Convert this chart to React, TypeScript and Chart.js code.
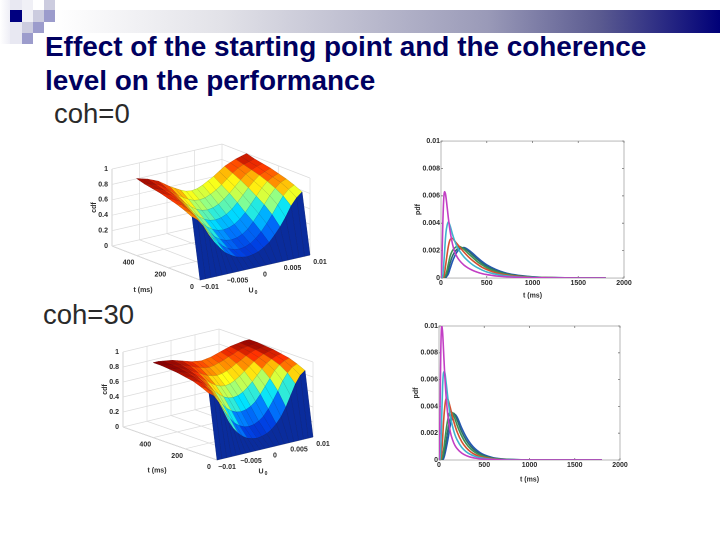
import { useEffect, useRef } from 'react';
import { Chart, registerables } from 'chart.js';

Chart.register(...registerables);

// surface grids
const u0Grid = [-0.01, -0.009, -0.008, -0.007, -0.006, -0.005, -0.004, -0.003, -0.002, -0.001, 0, 0.001, 0.002, 0.003, 0.004, 0.005, 0.006, 0.007, 0.008, 0.009, 0.01];
const tGrid = [0, 50, 100, 150, 200, 250, 300, 350, 400];

const cdfCoh0 = [
  [0, 0, 0, 0, 0, 0, 0, 0, 0, 0, 0, 0, 0, 0, 0, 0, 0, 0, 0, 0, 0],
  [.78, .72, .63, .50, .39, .30, .22, .17, .13, .11, .10, .11, .13, .17, .22, .30, .39, .50, .63, .72, .78],
  [.83, .79, .72, .62, .51, .41, .32, .25, .20, .17, .16, .17, .20, .25, .32, .41, .51, .62, .72, .79, .83],
  [.87, .84, .78, .70, .60, .50, .41, .33, .28, .25, .24, .25, .28, .33, .41, .50, .60, .70, .78, .84, .87],
  [.90, .87, .83, .76, .67, .58, .49, .42, .37, .34, .33, .34, .37, .42, .49, .58, .67, .76, .83, .87, .90],
  [.93, .90, .87, .81, .74, .66, .58, .51, .46, .43, .42, .43, .46, .51, .58, .66, .74, .81, .87, .90, .93],
  [.95, .93, .90, .86, .80, .73, .66, .60, .55, .52, .51, .52, .55, .60, .66, .73, .80, .86, .90, .93, .95],
  [.97, .95, .93, .90, .85, .79, .73, .68, .64, .61, .60, .61, .64, .68, .73, .79, .85, .90, .93, .95, .97],
  [1, .98, .96, .93, .90, .85, .80, .76, .72, .69, .68, .69, .72, .76, .80, .85, .90, .93, .96, .98, 1],
];

const cdfCoh30 = [
  [0, 0, 0, 0, 0, 0, 0, 0, 0, 0, 0, 0, 0, 0, 0, 0, 0, 0, 0, 0, 0],
  [.85, .80, .70, .56, .42, .31, .23, .17, .13, .11, .10, .11, .13, .17, .23, .31, .42, .56, .70, .80, .85],
  [.90, .87, .81, .72, .60, .49, .39, .31, .26, .23, .22, .23, .26, .31, .39, .49, .60, .72, .81, .87, .90],
  [.94, .92, .88, .82, .73, .64, .55, .47, .42, .39, .38, .39, .42, .47, .55, .64, .73, .82, .88, .92, .94],
  [.96, .95, .92, .88, .82, .75, .68, .62, .57, .54, .53, .54, .57, .62, .68, .75, .82, .88, .92, .95, .96],
  [.98, .97, .95, .92, .88, .83, .78, .73, .69, .66, .65, .66, .69, .73, .78, .83, .88, .92, .95, .97, .98],
  [.99, .98, .97, .95, .92, .88, .85, .81, .78, .76, .75, .76, .78, .81, .85, .88, .92, .95, .97, .98, .99],
  [1, .99, .98, .97, .95, .92, .90, .87, .85, .83, .82, .83, .85, .87, .90, .92, .95, .97, .98, .99, 1],
  [1, 1, .99, .98, .97, .95, .93, .91, .89, .88, .87, .88, .89, .91, .93, .95, .97, .98, .99, 1, 1],
];

const zTicks = [0, 0.2, 0.4, 0.6, 0.8, 1];
const tTicks = [0, 200, 400];
const uTicks = [-0.01, -0.005, 0, 0.005, 0.01];

// pdf curves
const tPdf = [0, 10, 20, 30, 40, 50, 60, 80, 100, 125, 150, 175, 200, 250, 300, 350, 400, 450, 500, 600, 700, 800, 1000, 1200, 1500, 1800];
const pdfNames = ['magenta', 'cyan', 'red', 'green', 'teal', 'blue'];
const pdfColors = ['#c23fc4', '#3fb4cc', '#d4512f', '#3c9252', '#2a6a72', '#2456b4'];

const pdfCoh0 = [
  [0, .0012, .0040, .0058, .0063, .0061, .0056, .0044, .0034, .0025, .0019, .00155, .0013, .00095, .00072, .00055, .00042, .00032, .00025, .00015, .0001, .00006, .00002, .00001, 0, 0],
  [0, 0, .0002, .001, .0020, .0030, .0036, .0041, .0038, .0032, .0027, .0023, .0020, .00155, .00122, .00095, .00075, .00058, .00045, .00028, .00017, .0001, .00004, .00001, 0, 0],
  [0, 0, 0, .0001, .0004, .0009, .0014, .0023, .0028, .0029, .0027, .0025, .0023, .0019, .00155, .00125, .001, .00078, .00062, .00038, .00023, .00014, .00005, .00002, 0, 0],
  [0, 0, 0, 0, .0001, .0002, .0004, .001, .0016, .0020, .0022, .0023, .0023, .0021, .00178, .00148, .00118, .00095, .00075, .00047, .00029, .00018, .00006, .00002, 0, 0],
  [0, 0, 0, 0, 0, .0001, .0002, .0006, .0011, .0016, .0019, .0021, .0022, .00218, .00195, .00165, .00135, .00108, .00086, .00055, .00034, .00021, .00008, .00003, 0, 0],
  [0, 0, 0, 0, 0, 0, .0001, .0003, .0007, .0012, .0016, .0019, .0021, .00222, .00205, .00178, .00148, .0012, .00096, .00062, .00038, .00024, .00009, .00003, 0, 0],
];

const pdfCoh30 = [
  [0, .0030, .0082, .0100, .0095, .0082, .0068, .0046, .0032, .0021, .0015, .0011, .00085, .00052, .00033, .00021, .00014, .00009, .00006, .00003, .00001, 0, 0, 0, 0, 0],
  [0, 0, .0010, .0032, .0055, .0065, .0066, .0057, .0045, .0033, .0025, .0019, .0015, .00095, .00062, .00041, .00027, .00018, .00012, .00005, .00002, .00001, 0, 0, 0, 0],
  [0, 0, .0001, .0006, .0016, .0028, .0037, .0046, .0045, .0039, .0032, .0026, .0021, .00138, .00092, .00061, .0004, .00027, .00018, .00008, .00003, .00001, 0, 0, 0, 0],
  [0, 0, 0, .0001, .0003, .0007, .0012, .0023, .0031, .0036, .0035, .0031, .0026, .0018, .00122, .00083, .00056, .00038, .00025, .00011, .00005, .00002, 0, 0, 0, 0],
  [0, 0, 0, 0, .0001, .0003, .0006, .0014, .0023, .0031, .0035, .0034, .0030, .00212, .00148, .00102, .0007, .00047, .00032, .00014, .00006, .00003, 0, 0, 0, 0],
  [0, 0, 0, 0, 0, .0001, .0003, .0009, .0016, .0026, .0032, .0034, .0032, .0024, .00172, .0012, .00083, .00057, .00038, .00017, .00008, .00003, 0, 0, 0, 0],
];

const FONT = '"Liberation Sans", Arial, sans-serif';
const LABEL = '#2b2b2b';

const jetStops: [number, number[]][] = [
  [0, [10, 44, 156]],
  [0.12, [0, 60, 225]],
  [0.25, [0, 120, 255]],
  [0.38, [0, 225, 255]],
  [0.5, [140, 255, 140]],
  [0.65, [255, 255, 20]],
  [0.76, [255, 160, 0]],
  [0.88, [255, 50, 0]],
  [1, [140, 0, 0]],
];

function jet(z: number) {
  for (let i = 1; i < jetStops.length; i++) {
    if (z <= jetStops[i][0]) {
      const [z0, a] = jetStops[i - 1];
      const [z1, b] = jetStops[i];
      const k = (z - z0) / (z1 - z0);
      return `rgb(${a.map((v, n) => Math.round(v + (b[n] - v) * k)).join(',')})`;
    }
  }
  return 'rgb(140,0,0)';
}

type View = { ox: number; oy: number; ux: number; uy: number; tx: number; ty: number; zLen: number; tMax: number };

const project = (v: View, u: number, t: number, z: number) => {
  const a = (u + 0.01) / 0.02;
  const b = t / v.tMax;
  return { x: v.ox + a * v.ux + b * v.tx, y: v.oy + a * v.uy + b * v.ty - z * v.zLen };
};

function buildSurface(v: View, cdf: number[][]) {
  const datasets: any[] = [];
  // first dataset ends up on top, so nearest cells go first
  for (let r = 0; r < tGrid.length - 1; r++) {
    for (let c = 0; c < u0Grid.length - 1; c++) {
      const colorCol = c - (c % 2);
      datasets.push({
        data: [
          project(v, u0Grid[c], tGrid[r], cdf[r][c]),
          project(v, u0Grid[c + 1], tGrid[r], cdf[r][c + 1]),
          project(v, u0Grid[c + 1], tGrid[r + 1], cdf[r + 1][c + 1]),
          project(v, u0Grid[c], tGrid[r + 1], cdf[r + 1][c]),
          project(v, u0Grid[c], tGrid[r], cdf[r][c]),
        ],
        polyFill: jet(cdf[r][colorCol]),
        borderColor: 'rgba(20,20,40,0.22)',
        borderWidth: 0.5,
        showLine: true,
        pointRadius: 0,
        tension: 0,
      });
    }
  }
  const gridLine = (a: any, b: any, color = '#dcdcdc') => datasets.push({
    data: [a, b], borderColor: color, borderWidth: 0.7, showLine: true, pointRadius: 0,
  });
  const uEnd = 0.01;
  const uStart = -0.01;
  zTicks.forEach(z => {
    gridLine(project(v, uStart, v.tMax, z), project(v, uEnd, v.tMax, z));
    gridLine(project(v, uEnd, 0, z), project(v, uEnd, v.tMax, z));
  });
  tTicks.forEach(t => {
    gridLine(project(v, uStart, t, 0), project(v, uEnd, t, 0));
    gridLine(project(v, uEnd, t, 0), project(v, uEnd, t, 1));
  });
  uTicks.forEach(u => {
    gridLine(project(v, u, 0, 0), project(v, u, v.tMax, 0));
    gridLine(project(v, u, v.tMax, 0), project(v, u, v.tMax, 1));
  });
  gridLine(project(v, uStart, v.tMax, 0), project(v, uStart, v.tMax, 1), '#a8a8a8');
  gridLine(project(v, uStart, 0, 0), project(v, uStart, v.tMax, 0), '#a8a8a8');
  gridLine(project(v, uStart, 0, 0), project(v, uEnd, 0, 0), '#a8a8a8');
  return datasets;
}

const polyFillPlugin = {
  id: 'polyFill',
  beforeDatasetDraw(chart: any, args: any) {
    const fill = chart.data.datasets[args.index].polyFill;
    if (!fill) return;
    const pts = args.meta.data;
    const ctx = chart.ctx;
    ctx.save();
    ctx.beginPath();
    pts.forEach((p: any, i: number) => (i ? ctx.lineTo(p.x, p.y) : ctx.moveTo(p.x, p.y)));
    ctx.closePath();
    ctx.fillStyle = fill;
    ctx.strokeStyle = fill;
    ctx.lineWidth = 0.4;
    ctx.fill();
    ctx.stroke();
    ctx.restore();
  },
};

function Surface({ left, top, view, cdf }: { left: number; top: number; view: View; cdf: number[][] }) {
  const ref = useRef<HTMLCanvasElement>(null);

  useEffect(() => {
    if (!ref.current) return;
    const labelPlugin = {
      id: 'axisLabels',
      afterDraw(chart: any) {
        const ctx = chart.ctx;
        const small = `bold 7px ${FONT}`;
        ctx.save();
        ctx.fillStyle = LABEL;
        ctx.font = small;
        ctx.textBaseline = 'middle';
        ctx.textAlign = 'right';
        zTicks.forEach(z => {
          const p = project(view, -0.01, view.tMax, z);
          ctx.fillText(String(z), p.x - 4, p.y);
        });
        ctx.textAlign = 'center';
        tTicks.forEach(t => {
          const p = project(view, -0.01, t, 0);
          ctx.fillText(String(t), p.x - 8, p.y + 7);
        });
        uTicks.forEach(u => {
          const p = project(view, u, 0, 0);
          ctx.fillText(String(u).replace('-', '\u2212'), p.x + 10, p.y + 7);
        });
        const tLabel = project(view, -0.01, view.tMax * 0.5, 0);
        ctx.fillText('t (ms)', tLabel.x - 13, tLabel.y + 27);
        const uLabel = project(view, 0, 0, 0);
        ctx.fillText('U', uLabel.x - 4, uLabel.y + 23);
        ctx.font = `bold 5px ${FONT}`;
        ctx.fillText('0', uLabel.x + 1, uLabel.y + 25);
        ctx.font = small;
        const zLabel = project(view, -0.01, view.tMax, 0.5);
        ctx.translate(zLabel.x - 18, zLabel.y);
        ctx.rotate(-Math.PI / 2);
        ctx.fillText('cdf', 0, 0);
        ctx.restore();
      },
    };
    const chart = new Chart(ref.current, {
      type: 'scatter',
      data: { datasets: buildSurface(view, cdf) },
      options: {
        animation: false,
        responsive: false,
        devicePixelRatio: 2,
        layout: { padding: 0 },
        plugins: { legend: { display: false }, tooltip: { enabled: false } },
        scales: {
          x: { type: 'linear', display: false, min: 0, max: 260 },
          y: { type: 'linear', display: false, min: 0, max: 175, reverse: true },
        },
      },
      plugins: [polyFillPlugin, labelPlugin],
    } as any);
    return () => chart.destroy();
  }, [view, cdf]);

  return (
    <canvas
      ref={ref}
      width={260}
      height={175}
      style={{ position: 'absolute', left, top, width: 260, height: 175, filter: 'blur(0.5px)' }}
    />
  );
}

const framePlugin = {
  id: 'frame',
  beforeDatasetsDraw(chart: any) {
    const { ctx, chartArea: a, scales } = chart;
    ctx.save();
    ctx.strokeStyle = '#a6a6a6';
    ctx.lineWidth = 0.8;
    ctx.strokeRect(a.left, a.top, a.right - a.left, a.bottom - a.top);
    ctx.strokeStyle = '#777';
    ctx.beginPath();
    scales.x.ticks.forEach((t: any) => {
      const x = scales.x.getPixelForValue(t.value);
      ctx.moveTo(x, a.bottom); ctx.lineTo(x, a.bottom - 2);
      ctx.moveTo(x, a.top); ctx.lineTo(x, a.top + 2);
    });
    scales.y.ticks.forEach((t: any) => {
      const y = scales.y.getPixelForValue(t.value);
      ctx.moveTo(a.left, y); ctx.lineTo(a.left + 2, y);
      ctx.moveTo(a.right, y); ctx.lineTo(a.right - 2, y);
    });
    ctx.stroke();
    ctx.restore();
  },
};

type PdfProps = { left: number; top: number; series: number[][]; padLeft: number; axisW: number; axisH: number; padRight: number; padBottom: number };

function PdfPlot({ left, top, series, padLeft, axisW, axisH, padRight, padBottom }: PdfProps) {
  const ref = useRef<HTMLCanvasElement>(null);

  useEffect(() => {
    if (!ref.current) return;
    const tickFont = { family: FONT, size: 7, weight: 'bold' as const };
    const chart = new Chart(ref.current, {
      type: 'line',
      data: {
        labels: tPdf,
        datasets: series.map((values, i) => ({
          label: pdfNames[i],
          data: values.map((y, k) => ({ x: tPdf[k], y })),
          borderColor: pdfColors[i],
          borderWidth: 1.6,
          pointRadius: 0,
          cubicInterpolationMode: 'monotone' as const,
        })),
      },
      options: {
        animation: false,
        responsive: false,
        devicePixelRatio: 2,
        layout: { padding: { top: 11, right: padRight, left: padLeft, bottom: padBottom } },
        plugins: { legend: { display: false }, tooltip: { enabled: false } },
        scales: {
          x: {
            type: 'linear',
            min: 0,
            max: 2000,
            ticks: { stepSize: 500, color: LABEL, font: tickFont, maxRotation: 0, padding: 1, callback: (v: any) => String(v) },
            grid: { display: false, drawTicks: false },
            border: { display: false },
            title: { display: true, text: 't (ms)', color: LABEL, font: tickFont, padding: 0 },
            afterFit: (s: any) => { s.height = axisH; },
          },
          y: {
            min: 0,
            max: 0.01,
            ticks: { stepSize: 0.002, color: LABEL, font: tickFont, padding: 1, callback: (v: any) => String(+(+v).toFixed(3)) },
            grid: { display: false, drawTicks: false },
            border: { display: false },
            title: { display: true, text: 'pdf', color: LABEL, font: tickFont, padding: 0 },
            afterFit: (s: any) => { s.width = axisW; },
          },
        },
      },
      plugins: [framePlugin],
    } as any);
    return () => chart.destroy();
  }, [series, padLeft, axisW, axisH, padRight, padBottom]);

  return (
    <canvas
      ref={ref}
      width={235}
      height={175}
      style={{ position: 'absolute', left, top, width: 235, height: 175, filter: 'blur(0.4px)' }}
    />
  );
}

const viewCoh0: View = { ox: 120, oy: 150, ux: 110, uy: -25, tx: -88, ty: -34, zLen: 77, tMax: 555 };
const viewCoh30: View = { ox: 137, oy: 150, ux: 96, uy: -23, tx: -94, ty: -33, zLen: 75, tMax: 590 };

const square = (left: number, top: number, w: number, h: number, background: string) => (
  <div key={`${left}-${top}`} style={{ position: 'absolute', left, top, width: w, height: h, background }} />
);

const textStyle = { position: 'absolute' as const, fontFamily: FONT, whiteSpace: 'nowrap' as const };

export default function App() {
  return (
    <div style={{ position: 'absolute', left: 0, top: 0, width: 720, height: 540, background: '#fff', overflow: 'hidden' }}>
      <div style={{ position: 'absolute', left: 55, top: 10, width: 665, height: 23, background: 'linear-gradient(90deg, #ffffff 0%, #e2e2e8 25%, #9a9ab8 65%, #5a5a90 82%, #000078 100%)' }} />
      {square(0, 0, 10, 44, 'linear-gradient(90deg, #ffffff, #eeeef6)')}
      {square(10, 0, 12, 10, '#e8e8f2')}
      {square(10, 22, 12, 22, '#e8e8f2')}
      {square(22, 0, 11, 22, '#f0f0f6')}
      {square(44, 0, 11, 10, '#ccccdf')}
      {square(10, 10, 12, 12, '#000080')}
      {square(33, 10, 11, 12, '#ccccdf')}
      {square(44, 10, 11, 12, '#9c9ccc')}
      {square(22, 22, 11, 11, '#ccccdf')}
      {square(33, 22, 11, 11, '#9c9ccc')}
      {square(22, 33, 11, 11, '#9c9ccc')}
      <div style={{ ...textStyle, left: 45, top: 30, fontSize: 27.9, fontWeight: 700, lineHeight: '34px', color: '#000060' }}>
        Effect of the starting point and the coherence<br />level on the performance
      </div>
      <div style={{ ...textStyle, left: 54, top: 99, fontSize: 27.5, lineHeight: '30px', color: '#2a2a2a' }}>coh=0</div>
      <div style={{ ...textStyle, left: 43, top: 300, fontSize: 27.5, lineHeight: '30px', color: '#2a2a2a' }}>coh=30</div>
      <Surface left={80} top={130} view={viewCoh0} cdf={cdfCoh0} />
      <Surface left={80} top={310} view={viewCoh30} cdf={cdfCoh30} />
      <PdfPlot left={405} top={130} series={pdfCoh0} padLeft={9} axisW={27} axisH={22} padRight={16} padBottom={5} />
      <PdfPlot left={405} top={315} series={pdfCoh30} padLeft={7} axisW={27} axisH={24} padRight={20} padBottom={6} />
    </div>
  );
}
